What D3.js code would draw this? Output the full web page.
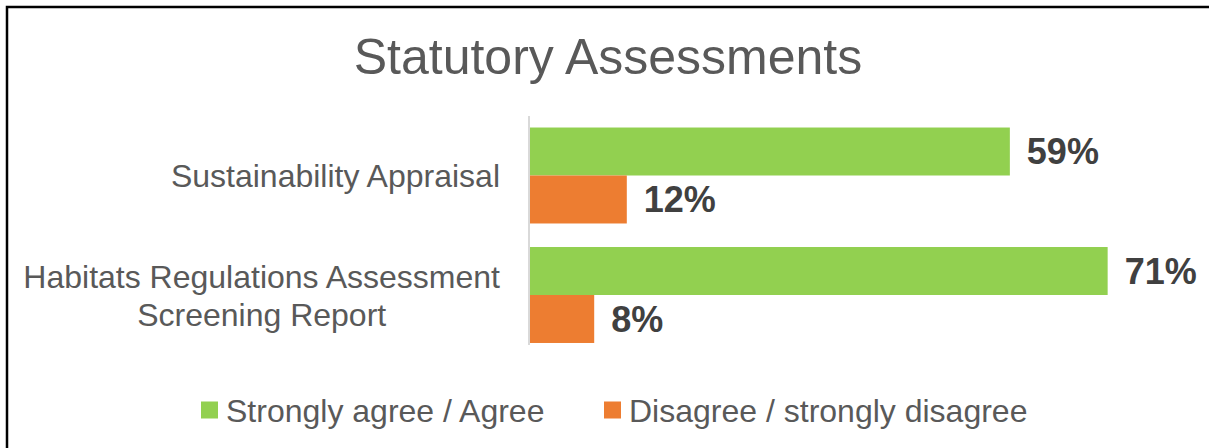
<!DOCTYPE html>
<html>
<head>
<meta charset="utf-8">
<script src="https://cdn.jsdelivr.net/npm/d3@7"></script>
<style>
  body { margin: 0; background: #fff; }
  svg { display: block; font-family: "Liberation Sans", Arial, sans-serif; }
</style>
</head>
<body>
<div id="chart"></div>
<script>
// chart data
var categories = ["Sustainability Appraisal", "Habitats Regulations Assessment Screening Report"];
var seriesNames = ["Strongly agree / Agree", "Disagree / strongly disagree"];
var agreeValues = [59, 71];
var disagreeValues = [12, 8];

var w = 1209,
    h = 448;

var svg = d3.select("#chart")
    .append("svg")
    .attr("width", w)
    .attr("height", h);

// frame (top and left edges only, like the source)
svg.append("path")
    .attr("d", "M7,448 L7,7 L1209,7")
    .attr("fill", "none")
    .attr("stroke", "#000")
    .attr("stroke-width", 2.5);

svg.append("text")
    .attr("x", 608)
    .attr("y", 74)
    .attr("text-anchor", "middle")
    .attr("fill", "#595959")
    .style("font-size", "50px")
    .text("Statutory Assessments");

var axisX = 529;

var xScale = d3.scaleLinear()
    .domain([0, 100])
    .range([axisX, axisX + 815]);

var yScale = d3.scaleBand()
    .domain(categories)
    .range([115.75, 354.75])
    .paddingInner(0.197)
    .paddingOuter(0.0985);

var seriesScale = d3.scaleBand()
    .domain(seriesNames)
    .range([0, yScale.bandwidth()]);

var colour = d3.scaleOrdinal()
    .domain(seriesNames)
    .range(["#92D050", "#ED7D31"]);

var rows = categories.map(function (c, i) {
    return { cat: c, values: [agreeValues[i], disagreeValues[i]] };
});

// bars
var groups = svg.selectAll("g.cat")
    .data(rows)
    .enter()
    .append("g")
    .attr("class", "cat")
    .attr("transform", function (d) { return "translate(0," + yScale(d.cat) + ")"; });

groups.selectAll("rect")
    .data(function (d) { return d.values.map(function (v, j) { return { name: seriesNames[j], v: v }; }); })
    .enter()
    .append("rect")
    .attr("x", xScale(0))
    .attr("y", function (d) { return seriesScale(d.name); })
    .attr("width", function (d) { return xScale(d.v) - xScale(0); })
    .attr("height", seriesScale.bandwidth())
    .attr("fill", function (d) { return colour(d.name); });

groups.selectAll("text")
    .data(function (d) { return d.values.map(function (v, j) { return { name: seriesNames[j], v: v }; }); })
    .enter()
    .append("text")
    .attr("x", function (d) { return xScale(d.v) + 17; })
    .attr("y", function (d) { return seriesScale(d.name) + seriesScale.bandwidth() / 2; })
    .attr("dy", "0.36em")
    .attr("fill", "#404040")
    .style("font-size", "36px")
    .style("font-weight", "bold")
    .text(function (d) { return d.v + "%"; });

// vertical axis line
svg.append("line")
    .attr("x1", axisX)
    .attr("x2", axisX)
    .attr("y1", 116)
    .attr("y2", 345)
    .attr("stroke", "#d9d9d9")
    .attr("stroke-width", 2);

// category labels, wrapped and centred inside a right aligned block
var labelRight = 500;
var lineH = 38;

categories.forEach(function (c) {
    var t = svg.append("text")
        .attr("fill", "#595959")
        .attr("text-anchor", "middle")
        .style("font-size", "32px");
    var words = c.split(" "), lines = [], line = [];
    words.forEach(function (wd) {
        var tryLine = line.concat([wd]).join(" ");
        t.text(tryLine);
        if (t.node().getComputedTextLength() > 490 && line.length) {
            lines.push(line.join(" "));
            line = [wd];
        } else {
            line.push(wd);
        }
    });
    lines.push(line.join(" "));
    t.text(null);
    var widths = lines.map(function (l) {
        t.text(l);
        return t.node().getComputedTextLength();
    });
    t.text(null);
    var maxW = d3.max(widths);
    var cy = yScale(c) + yScale.bandwidth() / 2;
    var y0 = cy - (lines.length - 1) * lineH / 2;
    lines.forEach(function (l, k) {
        t.append("tspan")
            .attr("x", labelRight - maxW / 2)
            .attr("y", y0 + k * lineH)
            .attr("dy", "0.36em")
            .text(l);
    });
});

// legend
var legendPos = [201, 604];
var legend = svg.selectAll("g.legend")
    .data(seriesNames)
    .enter()
    .append("g")
    .attr("class", "legend")
    .attr("transform", function (d, i) { return "translate(" + legendPos[i] + ",410)"; });

legend.append("rect")
    .attr("x", 0)
    .attr("y", -8.5)
    .attr("width", 17)
    .attr("height", 17)
    .attr("fill", function (d) { return colour(d); });

legend.append("text")
    .attr("x", 25)
    .attr("dy", "0.36em")
    .attr("fill", "#595959")
    .style("font-size", "32px")
    .text(function (d) { return d; });
</script>
</body>
</html>
